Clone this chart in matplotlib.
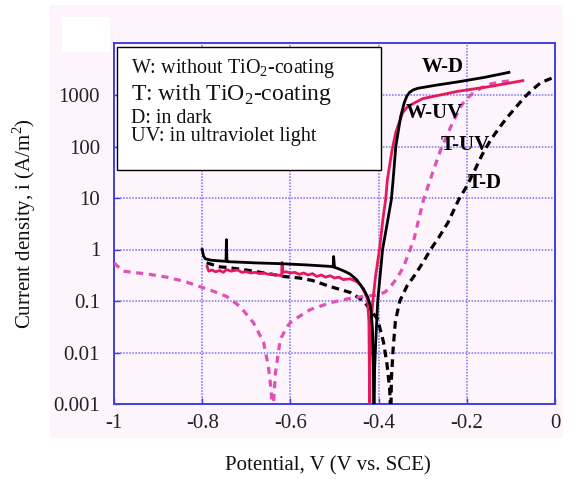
import matplotlib
matplotlib.use("Agg")
import matplotlib.pyplot as plt
from matplotlib.patches import Rectangle
from matplotlib.ticker import FixedLocator, FixedFormatter, NullLocator

plt.rcParams['font.family'] = ['Liberation Serif', 'DejaVu Serif']
plt.rcParams['mathtext.fontset'] = 'custom'
plt.rcParams['mathtext.rm'] = 'Liberation Serif'

# ---- polarization curves: potential (V vs. SCE) and current density (A/m^2) ----
# W-D: uncoated, in dark
wd_v = [-0.800, -0.797, -0.793, -0.780, -0.760, -0.746, -0.745, -0.744, -0.742, -0.720,
        -0.680, -0.620, -0.560, -0.510, -0.503, -0.502, -0.500, -0.490, -0.475, -0.464,
        -0.450, -0.434, -0.425, -0.418, -0.414, -0.412, -0.411,
        -0.410, -0.409, -0.405, -0.402, -0.396, -0.391, -0.380, -0.371, -0.367, -0.361,
        -0.350, -0.342, -0.336, -0.330, -0.322, -0.311, -0.270, -0.220, -0.160, -0.1045]
wd_i = [1.0, 0.75, 0.66, 0.62, 0.60, 0.59, 1.55, 0.60, 0.58, 0.57,
        0.55, 0.53, 0.50, 0.47, 0.46, 0.73, 0.45, 0.42, 0.37, 0.33,
        0.26, 0.17, 0.12, 0.078, 0.03, 0.005, 0.0008,
        0.0008, 0.005, 0.03, 0.1, 0.35, 1.0, 3.4, 9.4, 23, 100,
        380, 700, 950, 1120, 1250, 1350, 1550, 1800, 2200, 2750]

# W-UV: uncoated, under UV light
wuv_v = [-0.789, -0.785, -0.778, -0.770, -0.760, -0.752, -0.745, -0.735, -0.720, -0.710,
         -0.700, -0.690, -0.680, -0.670, -0.660, -0.650, -0.640,
         -0.620, -0.619, -0.617, -0.610, -0.600, -0.590, -0.580, -0.570, -0.560, -0.550,
         -0.540, -0.530, -0.520, -0.510, -0.500,
         -0.490, -0.480, -0.465, -0.450, -0.440, -0.432, -0.425, -0.422, -0.421, -0.4205,
         -0.4200, -0.420, -0.418, -0.413, -0.407, -0.398, -0.390, -0.384, -0.380, -0.370,
         -0.361, -0.345, -0.334, -0.300, -0.220, -0.150, -0.073]
wuv_i = [0.47, 0.38, 0.40, 0.37, 0.39, 0.36, 0.41, 0.38, 0.40, 0.36,
         0.37, 0.35, 0.36, 0.34, 0.35, 0.33, 0.33,
         0.31, 0.56, 0.36, 0.37, 0.35, 0.36, 0.33, 0.35, 0.32, 0.34,
         0.30, 0.32, 0.29, 0.31, 0.28,
         0.29, 0.26, 0.27, 0.24, 0.20, 0.15, 0.107, 0.04, 0.005, 0.0008,
         0.0008, 0.005, 0.03, 0.1, 0.3, 1.0, 4.0, 9.4, 23, 80,
         190, 460, 600, 850, 1180, 1450, 1900]

# T-UV: TiO2-coated, under UV light
tuv_v = [-1.000, -0.980, -0.957, -0.920, -0.880, -0.840, -0.805, -0.775, -0.745, -0.714,
         -0.684, -0.661, -0.650, -0.644, -0.641,
         -0.639, -0.634, -0.623, -0.607, -0.600, -0.580, -0.555, -0.509, -0.470, -0.434,
         -0.402, -0.385, -0.373, -0.358, -0.343, -0.320, -0.298, -0.277, -0.259, -0.236,
         -0.214, -0.200, -0.184, -0.165, -0.145, -0.120, -0.100]
tuv_i = [0.55, 0.38, 0.36, 0.33, 0.29, 0.24, 0.19, 0.155, 0.123, 0.078,
         0.038, 0.016, 0.0054, 0.002, 0.0008,
         0.0008, 0.004, 0.018, 0.032, 0.038, 0.05, 0.068, 0.093, 0.11, 0.123,
         0.13, 0.15, 0.19, 0.28, 0.47, 1.56, 9.4, 32, 87, 245,
         600, 850, 1120, 1400, 1650, 1800, 1900]

# T-D: TiO2-coated, in dark
td_v = [-0.790, -0.760, -0.745, -0.700, -0.650, -0.616, -0.580, -0.550, -0.509, -0.464,
        -0.434, -0.402, -0.389, -0.381, -0.375, -0.373,
        -0.372, -0.371, -0.367, -0.362, -0.352, -0.335, -0.320, -0.300, -0.282, -0.262,
        -0.243, -0.218, -0.200, -0.184, -0.165, -0.145, -0.125, -0.107, -0.090, -0.070,
        -0.050, -0.032, -0.015, -0.002]
td_i = [0.55, 0.46, 0.45, 0.40, 0.34, 0.30, 0.28, 0.25, 0.19, 0.146,
        0.10, 0.044, 0.016, 0.006, 0.002, 0.0008,
        0.0008, 0.003, 0.012, 0.04, 0.1, 0.2, 0.3, 0.55, 1.0, 1.8,
        3.3, 9.4, 17, 32, 70, 138, 240, 380, 560, 890,
        1300, 1740, 2000, 2200]

x_ticks = [-1, -0.8, -0.6, -0.4, -0.2, 0]
x_labels = ['-1', '-0.8', '-0.6', '-0.4', '-0.2', '0']
y_ticks = [0.001, 0.01, 0.1, 1, 10, 100, 1000]
y_labels = ['0.001', '0.01', '0.1', '1', '10', '100', '1000']

legend_lines = [
    ('W: without TiO$_2$-coating', 14.5),
    ('T: with TiO$_2$-coating', 17.0),
    ('D: in dark', 14.3),
    ('UV: in ultraviolet light', 14.7),
]
curve_labels = ['W-D', 'W-UV', 'T-UV', 'T-D']

W, H = 572, 479
fig = plt.figure(figsize=(W / 100, H / 100), dpi=100)
fig.patch.set_facecolor('white')


def fx(px):
    return px / W


def fy(py):
    return 1 - py / H


PINK = '#fdf4fc'
# light background panel with a white notch at the top left
fig.patches.append(Rectangle((fx(50), fy(438)), fx(563) - fx(50), fy(5) - fy(438),
                             transform=fig.transFigure, facecolor=PINK,
                             edgecolor='none', zorder=-2))
fig.patches.append(Rectangle((fx(62), fy(52)), fx(110) - fx(62), fy(17) - fy(52),
                             transform=fig.transFigure, facecolor='white',
                             edgecolor='none', zorder=-1))

ax = fig.add_axes([fx(114), fy(404), fx(555) - fx(114), fy(43.5) - fy(404)])
ax.set_zorder(1)
ax.set_facecolor(PINK)
ax.set_yscale('log')
ax.set_xlim(-1, 0)
ax.set_ylim(0.001, 10000)

BLUE = '#4040e0'
for s in ax.spines.values():
    s.set_color(BLUE)
    s.set_linewidth(1.4)

ax.xaxis.set_major_locator(FixedLocator(x_ticks))
ax.xaxis.set_major_formatter(FixedFormatter(x_labels))
ax.yaxis.set_major_locator(FixedLocator(y_ticks))
ax.yaxis.set_major_formatter(FixedFormatter(y_labels))
ax.yaxis.set_minor_locator(NullLocator())
ax.tick_params(axis='both', direction='in', length=4, width=1, color=BLUE,
               labelsize=15, labelcolor='#222222')
ax.tick_params(axis='y', pad=10)
ax.tick_params(axis='x', pad=7)
ax.grid(True, which='major', color='#7272f0', linestyle=(0, (1, 1)), linewidth=1.1)
ax.set_axisbelow(True)

RED = '#e5195c'
MAG = '#df50b8'
ax.plot(td_v, td_i, color='black', lw=2.3, linestyle=(0, (2.4, 1.6)), zorder=3)
ax.plot(tuv_v, tuv_i, color=MAG, lw=2.3, linestyle=(0, (2.2, 1.8)), zorder=3)
ax.plot(wuv_v, wuv_i, color=RED, lw=2.0, zorder=4)
ax.plot(wd_v, wd_i, color='black', lw=2.0, zorder=5)

# legend box with descriptions
box = Rectangle((fx(117), fy(170)), fx(381) - fx(117), fy(47) - fy(170),
                transform=fig.transFigure, facecolor='white', edgecolor='black',
                linewidth=1.0, zorder=6)
fig.patches.append(box)
baselines = [73, 100, 123, 141]
for (txt, size), yb in zip(legend_lines, baselines):
    fig.text(fx(131), fy(yb), txt, fontsize=size, ha='left', va='baseline',
             color='#111111', zorder=7)

# curve labels
label_pos = [(422, 72), (406, 118), (441, 150), (468, 188)]
for lab, (px, py) in zip(curve_labels, label_pos):
    fig.text(fx(px), fy(py), lab, fontsize=15, fontweight='bold', ha='left',
             va='baseline', color='black', zorder=8)

fig.text(fx(24), fy(224), 'Current density, i (A/m$^2$)', rotation=90, fontsize=15,
         ha='center', va='center', color='#111111')
fig.text(fx(328), fy(466), 'Potential, V (V vs. SCE)', fontsize=15,
         ha='center', va='center', color='#111111')

fig.savefig('out.png', dpi=100)
